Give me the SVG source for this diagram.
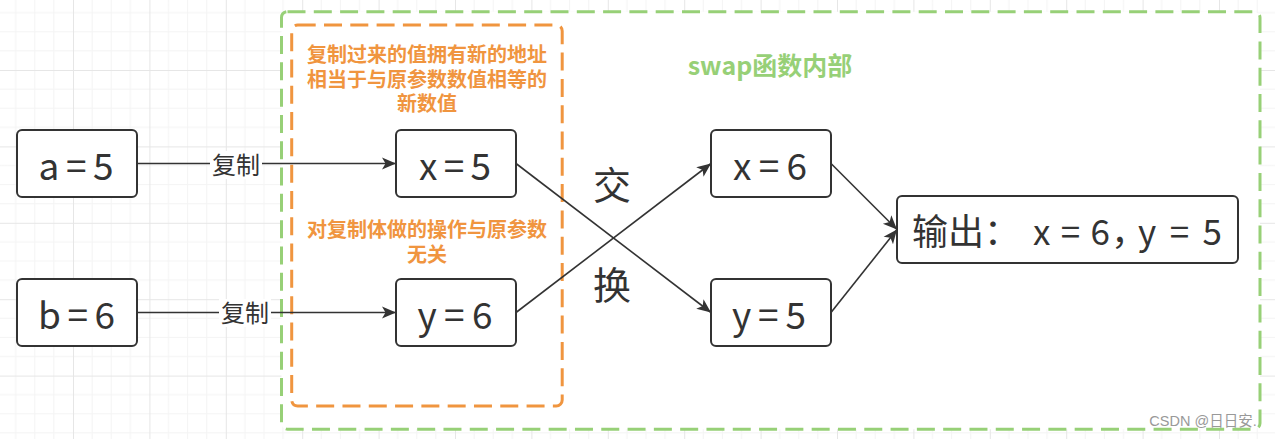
<svg xmlns="http://www.w3.org/2000/svg" width="1275" height="439" viewBox="0 0 1275 439">
<defs>
<pattern id="grid" x="-3.4" y="-6.4" width="76.4" height="76.4" patternUnits="userSpaceOnUse">
<path d="M19.1 0V76.4M38.2 0V76.4M57.3 0V76.4M0 19.1H76.4M0 38.2H76.4M0 57.3H76.4" stroke="#f4f4f4" stroke-width="1" fill="none"/>
<path d="M0.5 0V76.4M0 0.5H76.4" stroke="#e6e6e6" stroke-width="1" fill="none"/>
</pattern>
<marker id="arr" markerUnits="userSpaceOnUse" markerWidth="16" markerHeight="14" refX="14" refY="6" orient="auto" viewBox="0 0 16 12">
<path d="M0 0L14 6L0 12L3.5 6Z" fill="#333"/>
</marker>
<style>
.box{fill:#fff;stroke:#333;stroke-width:2}
.nt{font-family:"Noto Sans CJK SC","Noto Sans",sans-serif;fill:#333;text-anchor:middle}
.big{font-size:37px}
.ot{font-family:"Noto Sans CJK SC","Noto Sans",sans-serif;fill:#333}
.lbl{font-family:"Noto Sans CJK SC",sans-serif;font-size:24px;fill:#333;text-anchor:middle}
.or{font-family:"Noto Sans CJK SC",sans-serif;font-size:20px;font-weight:bold;fill:#f0953f;text-anchor:middle}
.gr{font-family:"Noto Sans CJK SC",sans-serif;font-size:25px;font-weight:bold;fill:#97d077;text-anchor:middle}
.edge{stroke:#333;stroke-width:1.6;fill:none;marker-end:url(#arr)}
</style>
</defs>
<rect width="1275" height="439" fill="#fff"/>
<rect width="1275" height="439" fill="url(#grid)"/>

<g id="swap-group">
<rect x="281.5" y="11.7" width="978.5" height="417.5" rx="6" fill="#fff" stroke="#97d077" stroke-width="3" stroke-dasharray="18 8.3"/>
<text class="gr" x="770" y="75">swap函数内部</text>
</g>

<g id="copy-group">
<rect x="291.7" y="25" width="270.5" height="381" rx="6" fill="#fff" stroke="#f0953f" stroke-width="3" stroke-dasharray="18 8.3"/>
<text class="or" x="427" y="62">复制过来的值拥有新的地址</text>
<text class="or" x="427" y="86.5">相当于与原参数数值相等的</text>
<text class="or" x="427" y="111">新数值</text>
<text class="or" x="427" y="237">对复制体做的操作与原参数</text>
<text class="or" x="427" y="262">无关</text>
</g>

<g id="connectors">
<line class="edge" x1="137" y1="163.5" x2="396" y2="163.5"/>
<line class="edge" x1="137" y1="312.5" x2="396" y2="312.5"/>
<line class="edge" x1="516" y1="163.5" x2="711" y2="312.5"/>
<line class="edge" x1="516" y1="312.5" x2="711" y2="163.5"/>
<line class="edge" x1="831" y1="163.5" x2="897" y2="229.5"/>
<line class="edge" x1="831" y1="312.5" x2="897" y2="229.5"/>
<rect x="210" y="151" width="52" height="28" fill="#fff"/>
<text class="lbl" x="236" y="174">复制</text>
<rect x="219" y="299" width="52" height="28" fill="#fff"/>
<text class="lbl" x="245" y="322">复制</text>
</g>

<g id="swap-label">
<text class="nt" x="612" y="199" style="font-size:38px">交</text>
<text class="nt" x="612" y="299" style="font-size:38px">换</text>
</g>

<g id="node-a">
<rect class="box" x="17" y="130" width="120" height="67" rx="5"/>
<text class="nt big" x="76" y="180" textLength="75" lengthAdjust="spacing">a=5</text>
</g>
<g id="node-b">
<rect class="box" x="17" y="279" width="120" height="67" rx="5"/>
<text class="nt big" x="76.5" y="329" textLength="77" lengthAdjust="spacing">b=6</text>
</g>
<g id="node-x5">
<rect class="box" x="396" y="130" width="120" height="67" rx="5"/>
<text class="nt big" x="455" y="180" textLength="72" lengthAdjust="spacing">x=5</text>
</g>
<g id="node-y6">
<rect class="box" x="396" y="279" width="120" height="67" rx="5"/>
<text class="nt big" x="455" y="329" textLength="75" lengthAdjust="spacing">y=6</text>
</g>
<g id="node-x6">
<rect class="box" x="711" y="130" width="120" height="67" rx="5"/>
<text class="nt big" x="770" y="180" textLength="74" lengthAdjust="spacing">x=6</text>
</g>
<g id="node-y5">
<rect class="box" x="711" y="279" width="120" height="67" rx="5"/>
<text class="nt big" x="769" y="329" textLength="74" lengthAdjust="spacing">y=5</text>
</g>
<g id="node-out">
<rect class="box" x="897" y="196" width="341" height="67" rx="5"/>
<text class="ot" y="245" style="font-size:36px"><tspan x="912">输出：</tspan><tspan x="1033" style="font-size:35px" textLength="77" lengthAdjust="spacing">x=6</tspan><tspan x="1111">，</tspan><tspan x="1138" style="font-size:35px" textLength="84" lengthAdjust="spacing">y=5</tspan></text>
</g>

<text x="1203" y="426" style="font-family:'Liberation Sans','Noto Sans CJK SC',sans-serif;font-size:14.5px;fill:#999;text-anchor:middle">CSDN @日日安.</text>
</svg>
